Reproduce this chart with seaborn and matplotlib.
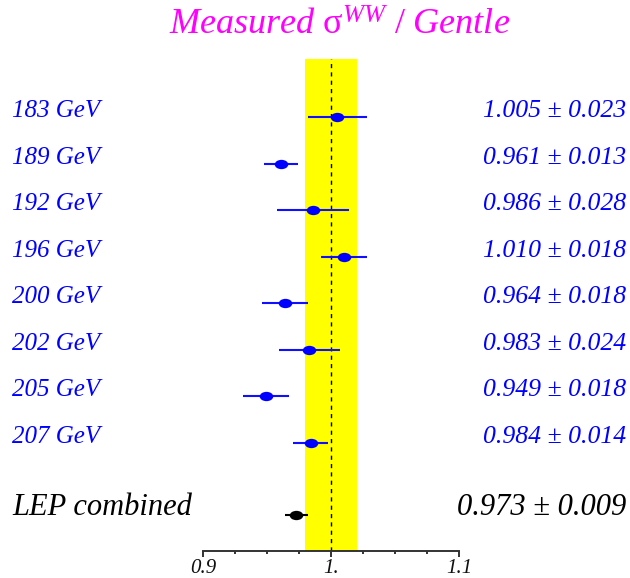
import numpy as np
import pandas as pd
import matplotlib
matplotlib.use("Agg")
import matplotlib.pyplot as plt
import matplotlib.transforms as mtransforms
from matplotlib.path import Path
from matplotlib.ticker import MultipleLocator, FixedLocator, FixedFormatter
import seaborn as sns

# Measured WW cross-section ratios per centre-of-mass energy
energies = ["183 GeV", "189 GeV", "192 GeV", "196 GeV",
            "200 GeV", "202 GeV", "205 GeV", "207 GeV"]
ratios = [1.005, 0.961, 0.986, 1.010, 0.964, 0.983, 0.949, 0.984]
errors = [0.023, 0.013, 0.028, 0.018, 0.018, 0.024, 0.018, 0.014]

combined_label = "LEP combined"
combined_ratio = 0.973
combined_error = 0.009

# theory uncertainty band around unity
band_halfwidth = 0.02

tick_values = [0.9, 1.0, 1.1]
tick_labels = ["0.9", "1.", "1.1"]

sns.set_theme(style="white")
plt.rcParams["font.family"] = ["Liberation Serif", "DejaVu Serif"]
plt.rcParams["mathtext.fontset"] = "custom"
plt.rcParams["mathtext.rm"] = "Liberation Serif"
plt.rcParams["mathtext.it"] = "Liberation Serif:italic"

W, H = 630, 578
fig = plt.figure(figsize=(W / 100, H / 100), dpi=100)
ax_left, ax_right, ax_top, ax_bot = 203, 459, 59, 551
ax = fig.add_axes([ax_left / W, 1 - ax_bot / H,
                   (ax_right - ax_left) / W, (ax_bot - ax_top) / H])

rows = np.arange(len(energies), dtype=float)
combined_row = 8.55

df = pd.DataFrame({"energy": energies, "ratio": ratios,
                   "err": errors, "row": rows})
df_comb = pd.DataFrame({"energy": [combined_label], "ratio": [combined_ratio],
                        "err": [combined_error], "row": [combined_row]})

# yellow band and reference line at 1
ax.axvspan(1 - band_halfwidth, 1 + band_halfwidth, color="#ffff00", lw=0, zorder=0)
ax.axvline(1.0, color="black", lw=1.0, ls=(0, (3, 3)), zorder=1)

# wide ellipse marker
circ = Path.unit_circle()
ellipse = Path(circ.vertices * np.array([1.45, 1.0]), circ.codes)

ax.hlines(df["row"], df["ratio"] - df["err"], df["ratio"] + df["err"],
          color="#1010ff", lw=1.5, zorder=2)
sns.scatterplot(data=df, x="ratio", y="row", ax=ax, marker=ellipse,
                s=95, color="#0000ff", linewidth=0, zorder=3, legend=False)

ax.hlines(df_comb["row"], df_comb["ratio"] - df_comb["err"],
          df_comb["ratio"] + df_comb["err"], color="black", lw=1.5, zorder=2)
sns.scatterplot(data=df_comb, x="ratio", y="row", ax=ax, marker=ellipse,
                s=95, color="black", linewidth=0, zorder=3, legend=False)

ax.set_xlim(0.9, 1.1)
ax.set_ylim((ax_bot - 117) / 46.57, (ax_top - 117) / 46.57)
ax.set_xlabel("")
ax.set_ylabel("")
ax.set_yticks([])

for side in ["top", "left", "right"]:
    ax.spines[side].set_visible(False)
ax.spines["bottom"].set_color("#333333")
ax.spines["bottom"].set_linewidth(1.4)

ax.xaxis.set_major_locator(FixedLocator(tick_values))
ax.xaxis.set_major_formatter(FixedFormatter(tick_labels))
ax.xaxis.set_minor_locator(MultipleLocator(0.025))
ax.tick_params(axis="x", which="major", direction="out", length=4, width=1.4,
               color="#333333", pad=1.5, labelsize=15, bottom=True)
ax.tick_params(axis="x", which="minor", direction="out", length=2.5, width=1.4,
               color="#333333", bottom=True)
for lbl in ax.get_xticklabels():
    lbl.set_fontstyle("italic")
    lbl.set_color("#111111")

# row labels and values
trans = mtransforms.blended_transform_factory(fig.transFigure, ax.transData)
for _, r in df.iterrows():
    ax.text(12 / W, r["row"], r["energy"], transform=trans, ha="left",
            va="baseline", fontsize=18, style="italic", color="#0000ff")
    ax.text(626 / W, r["row"], f"{r['ratio']:.3f} \u00b1 {r['err']:.3f}",
            transform=trans, ha="right", va="baseline", fontsize=18.5,
            style="italic", color="#0000ff")

ax.text(12 / W, combined_row, combined_label, transform=trans, ha="left",
        va="baseline", fontsize=22, style="italic", color="black")
ax.text(626 / W, combined_row,
        f"{combined_ratio:.3f} \u00b1 {combined_error:.3f}",
        transform=trans, ha="right", va="baseline", fontsize=22,
        style="italic", color="black")

fig.text(340 / W, 1 - 35 / H,
         r"$\mathit{Measured}\ \mathrm{\sigma}^{\mathit{WW}}\ \mathit{/\ Gentle}$",
         ha="center", va="baseline", fontsize=26, color="#ff00ff")

fig.savefig("out.png", dpi=100)
